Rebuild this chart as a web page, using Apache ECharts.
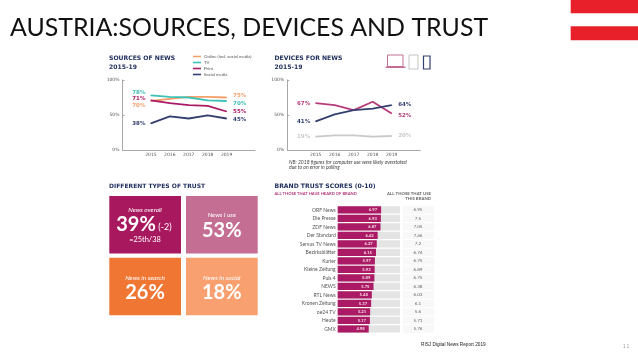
<!DOCTYPE html>
<html><head><meta charset="utf-8">
<script src="https://cdn.jsdelivr.net/npm/echarts@6/dist/echarts.min.js"></script>
<style>
html,body{margin:0;padding:0;background:#fff;overflow:hidden}
#wrap{position:relative;width:638px;height:359px}
#inner,#outer{position:absolute;left:0;top:0;width:638px;height:359px}
#inner{filter:blur(0.55px)}
</style></head><body>
<div id="wrap"><div id="inner"></div><div id="outer"></div></div>
<script>
const years = ['', '2015', '2016', '2017', '2018', '2019', ''];
const online = [70, 73, 76, 76, 75];
const tv = [78, 76, 75, 71, 70];
const print = [71, 67, 64, 63, 55];
const social = [38, 48, 45, 49.5, 45];
const computer = [67, 64, 57, 69, 52];
const smartphone = [41, 51, 57, 59, 64];
const tablet = [19, 21, 21, 19, 20];
const sourceNames = ['Online (incl. social media)', 'TV', 'Print', 'Social media'];
const brands = ['ORF News','Die Presse','ZDF News','Der Standard','Servus TV News','Bezirksblätter','Kurier','Kleine Zeitung','Puls 4','NEWS','RTL News','Kronen Zeitung','oe24 TV','Heute','GMX'];
const heardScores = [6.97,6.93,6.87,6.42,6.27,6.15,5.97,5.93,5.89,5.75,5.48,5.37,5.21,5.17,4.98];
const userScores = [6.95,7.5,7.05,7.46,7.2,6.74,6.75,6.89,6.75,6.38,6.03,6.1,5.6,5.71,5.76];

const NAVY='#1d2b5c', PINK='#ab1a64', TEAL='#3fc1b5', ORANGE='#f3a06a', SOCIAL='#33406f', GREY='#c9c9c9';

function lineSeries(name, vals, color, idx, leftDy, rightDy){
  const data = [null].concat(vals.map((v,i)=>{
    if(i===0) return {value:v,label:{show:true,position:'left',distance:5,offset:[0,leftDy],formatter:Math.round(v)+'%'}};
    if(i===vals.length-1) return {value:v,label:{show:true,position:'right',distance:6,offset:[0,rightDy],formatter:Math.round(v)+'%'}};
    return v;
  })).concat([null]);
  return {type:'line',name,data,xAxisIndex:idx,yAxisIndex:idx,symbol:'circle',symbolSize:1,showSymbol:true,showAllSymbol:true,
    lineStyle:{color,width:1.8},itemStyle:{color},
    label:{color,fontSize:5.5,fontWeight:'bold',fontFamily:'DejaVu Sans'},z:3,silent:true};
}
function xA(idx){return {type:'category',gridIndex:idx,data:years,axisLine:{lineStyle:{color:'#a8a8a8',width:1}},axisTick:{show:false},
  axisLabel:{fontSize:4.5,color:'#555',margin:2,interval:0,fontFamily:'DejaVu Sans'}};}
function yA(idx){return {type:'value',gridIndex:idx,min:0,max:100,interval:50,splitLine:{show:false},
  axisLine:{show:true,lineStyle:{color:'#a8a8a8',width:1}},axisTick:{show:true,inside:true,length:2,lineStyle:{color:'#a8a8a8'}},
  axisLabel:{fontSize:4.5,color:'#555',margin:3,formatter:'{value}%',fontFamily:'DejaVu Sans'}};}
function txt(x,y,text,size,color,extra){return {type:'text',x,y,silent:true,style:Object.assign({text,fontSize:size,fill:color,fontFamily:'Lato',textVerticalAlign:'middle',verticalAlign:'middle'},extra||{})};}
function head(x,y,text,size){return txt(x,y,text,size||6.1,NAVY,{fontFamily:'DejaVu Sans',fontWeight:'bold'});}
function card(x,y,c){return {type:'rect',shape:{x,y,width:71.7,height:57.5},silent:true,style:{fill:c}};}
const W='#fff', CEN={align:'center'};

const graphics=[
  head(109,58,'SOURCES OF NEWS'),head(109,67,'2015-19'),
  head(274.5,58,'DEVICES FOR NEWS'),head(274.5,67,'2015-19'),
  txt(289,162,'NB: 2018 figures for computer use were likely overstated',5,'#444',{fontStyle:'italic'}),
  txt(289,167.5,'due to an error in polling',5,'#444',{fontStyle:'italic'}),
  {type:'rect',shape:{x:387.5,y:55,width:15.5,height:11.5},silent:true,style:{fill:'none',stroke:'#c46e94',lineWidth:1}},
  {type:'rect',shape:{x:385.5,y:66.5,width:20,height:1.5},silent:true,style:{fill:'#c46e94'}},
  {type:'rect',shape:{x:409,y:55,width:9,height:14},silent:true,style:{fill:'none',stroke:'#c4c4c4',lineWidth:1}},
  {type:'rect',shape:{x:423.5,y:56,width:6.5,height:13},silent:true,style:{fill:'none',stroke:'#33406f',lineWidth:1.2}},
  head(109,186,'DIFFERENT TYPES OF TRUST',6),
  card(109.3,196,'#a8185f'),card(186,196,'#c46e94'),card(109.3,257.7,'#f07634'),card(186,257.7,'#f9a070'),
  txt(145,210,'News overall',6.4,W,{align:'center',fontStyle:'italic'}),
  txt(136,225,'39%',20,W,{align:'center',fontWeight:'bold'}),
  txt(165,227,'(-2)',9,W,CEN),
  txt(145,239.5,'=25th/38',7.4,W,CEN),
  txt(221.8,215,'News I use',6.4,W,{align:'center',fontStyle:'italic'}),
  txt(221.8,231,'53%',20,W,{align:'center',fontWeight:'bold'}),
  txt(145,277.5,'News in search',6.4,W,{align:'center',fontStyle:'italic'}),
  txt(145,292.5,'26%',20,W,{align:'center',fontWeight:'bold'}),
  txt(221.8,277.5,'News in social',6.4,W,{align:'center',fontStyle:'italic'}),
  txt(221.8,292.5,'18%',20,W,{align:'center',fontWeight:'bold'}),
  head(274.5,186,'BRAND TRUST SCORES (0-10)',6.1),
  txt(274.5,193.5,'ALL THOSE THAT HAVE HEARD OF BRAND',4.1,'#b03a78',{fontWeight:'bold'}),
  txt(431,193.5,'ALL THOSE THAT USE',4.3,'#666',{align:'right',fontWeight:'bold'}),
  txt(431,199,'THIS BRAND',4.3,'#666',{align:'right',fontWeight:'bold'})
];

const inner=echarts.init(document.getElementById('inner'),null,{renderer:'canvas'});
const catY=(i,extra)=>Object.assign({type:'category',gridIndex:i,inverse:true,axisLine:{show:false},axisTick:{show:false}},extra);
inner.setOption({
  animation:false,backgroundColor:'transparent',
  legend:{data:sourceNames.map(n=>({name:n,icon:'rect',itemStyle:{}})),orient:'vertical',left:193,top:54.5,itemWidth:8,itemHeight:1.6,itemGap:2,
    textStyle:{fontSize:4.3,color:'#555',fontFamily:'Lato',padding:[0,0,0,-2]},padding:0,selectedMode:false},
  grid:[
    {left:122.5,top:80,width:132.5,height:70},
    {left:287.2,top:80,width:133,height:70},
    {left:337.7,top:205.7,width:62.3,height:127.5},
    {left:403,top:205.7,width:31,height:127.5}
  ],
  xAxis:[xA(0),xA(1),
    {type:'value',gridIndex:2,min:0,max:10,show:false},
    {type:'value',gridIndex:3,min:0,max:10,show:false}],
  yAxis:[yA(0),yA(1),
    catY(2,{data:brands,axisLabel:{fontSize:5,color:'#555',margin:2,interval:0,fontFamily:'Lato'}}),
    catY(3,{position:'left',data:userScores.map(String),axisLabel:{inside:true,fontSize:4.6,color:'#666',margin:15,interval:0,align:'center',fontFamily:'Lato'},z:5})],
  series:[
    lineSeries(sourceNames[0],online,ORANGE,0,5,-2),
    lineSeries(sourceNames[1],tv,TEAL,0,-3,3),
    lineSeries(sourceNames[2],print,PINK,0,-2,0),
    lineSeries(sourceNames[3],social,SOCIAL,0,0,1),
    lineSeries('Computer',computer,'#b83c7c',1,0,2),
    lineSeries('Smartphone',smartphone,SOCIAL,1,0,-1),
    lineSeries('Tablet',tablet,GREY,1,0,0),
    {type:'bar',name:'Heard of brand',xAxisIndex:2,yAxisIndex:2,data:heardScores,barWidth:7.2,
      itemStyle:{color:'#ab1a64'},showBackground:true,backgroundStyle:{color:'#e4e4e4'},
      label:{show:true,position:'insideRight',distance:4,fontSize:4.2,fontWeight:'bold',color:'#f7dbe8',fontFamily:'Lato',formatter:p=>p.value.toFixed(2)}},
    {type:'bar',name:'Users of brand',xAxisIndex:3,yAxisIndex:3,data:userScores,barWidth:7.2,
      itemStyle:{color:'#f8f8f8'},showBackground:true,backgroundStyle:{color:'#f8f8f8'}}
  ],
  graphic:{elements:graphics}
});

const outer=echarts.init(document.getElementById('outer'),null,{renderer:'canvas'});
outer.setOption({
  animation:false,
  graphic:{elements:[
    txt(10,28,'AUSTRIA:SOURCES, DEVICES AND TRUST',24.9,'#111',{fontFamily:'Lato'}),
    {type:'rect',shape:{x:570.7,y:0,width:68,height:13.2},silent:true,style:{fill:'#e8202a'}},
    {type:'rect',shape:{x:570.7,y:26.3,width:68,height:14},silent:true,style:{fill:'#e8202a'}},
    txt(421,345,'RISJ Digital News Report 2019',4.7,'#222',{fontFamily:'Liberation Sans'}),
    txt(623,347,'1 1',4.5,'#999',{fontFamily:'Liberation Sans'})
  ]}
});
</script>
</body></html>
